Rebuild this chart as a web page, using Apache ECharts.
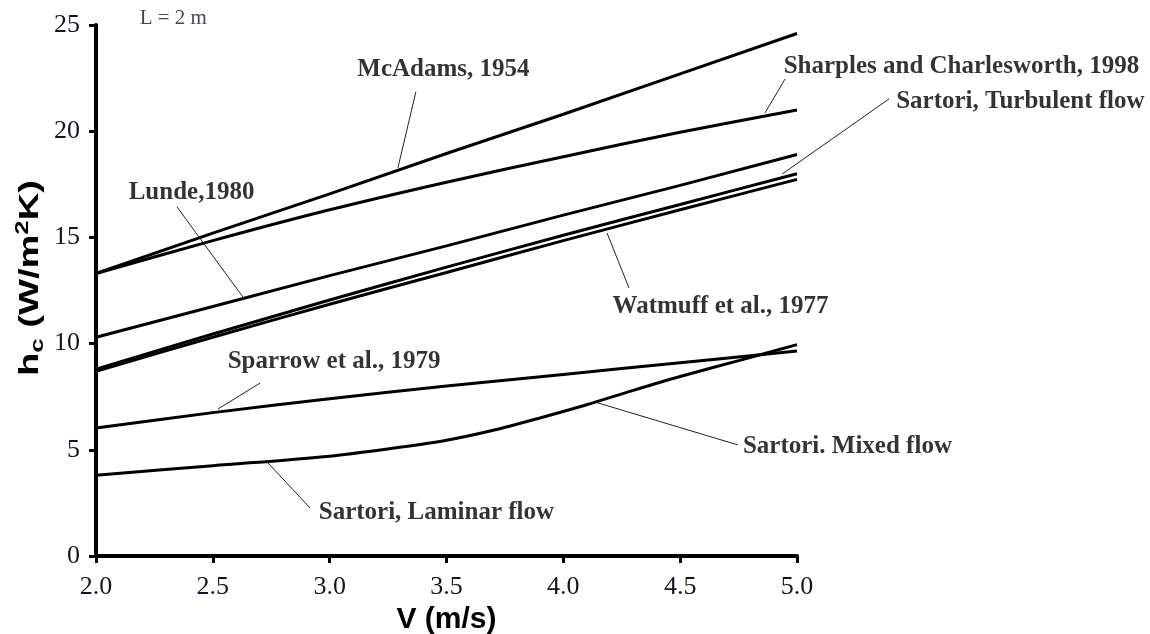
<!DOCTYPE html>
<html>
<head>
<meta charset="utf-8">
<script src="https://cdn.jsdelivr.net/npm/echarts@6/dist/echarts.min.js"></script>
<style>
  html, body { margin: 0; padding: 0; background: #fff; }
  #chart { width: 1150px; height: 634px; }
</style>
</head>
<body>
<div id="chart"></div>
<script>
// Wind speed (m/s) sampled for the correlation curves
const speeds = [2.0, 2.5, 3.0, 3.5, 4.0, 4.5, 5.0];

// Convective heat transfer coefficient h_c (W/m²K) for each correlation
const mcAdams   = [13.3, 15.2, 17.05, 18.95, 20.8, 22.7, 24.6];
const sharples  = [13.3, 14.85, 16.3, 17.6, 18.8, 19.95, 21.0];
const lunde     = [10.3, 11.75, 13.2, 14.6, 16.05, 17.45, 18.9];
const sartoriTurbulent = [8.8, 10.45, 12.05, 13.6, 15.1, 16.55, 18.0];
const watmuff   = [8.7, 10.3, 11.85, 13.35, 14.85, 16.3, 17.73];
const sparrow   = [6.03, 6.75, 7.4, 8.0, 8.55, 9.1, 9.65];

// Sartori laminar -> mixed flow curve, finer sampling around the transition
const sartoriSpeeds = [2.0, 2.5, 3.0, 3.3, 3.5, 3.7, 3.9, 4.1, 4.3, 4.5, 4.75, 5.0];
const sartoriLamMixed = [3.8, 4.25, 4.7, 5.12, 5.45, 5.92, 6.5, 7.12, 7.8, 8.45, 9.2, 9.95];

// Annotations: [text, textX, textY, leaderFromX, leaderFromY, leaderToX, leaderToY]
const notes = [
  ['McAdams, 1954', 3.489, 22.88, 3.369, 21.85, 3.292, 18.27],
  ['Sharples and Charlesworth, 1998', 5.706, 23.02, 4.949, 22.46, 4.863, 20.86],
  ['Sartori, Turbulent flow', 5.958, 21.37, 5.394, 21.52, 4.936, 17.98],
  ['Lunde,1980', 2.411, 17.09, 2.347, 16.43, 2.629, 12.19],
  ['Watmuff et al., 1977', 4.675, 11.72, 4.281, 12.62, 4.187, 15.21],
  ['Sparrow et al., 1979', 3.021, 9.13, 2.702, 8.14, 2.522, 6.92],
  ['Sartori. Mixed flow', 5.218, 5.13, 4.747, 5.23, 4.135, 7.25],
  ['Sartori, Laminar flow', 3.459, 2.02, 2.916, 2.26, 2.732, 4.43]
];
const caption = ['L = 2 m', 2.333, 25.3];

const pair = (xs, ys) => xs.map((x, i) => [x, ys[i]]);

const curveStyle = { color: '#000', width: 3 };
function curve(name, xs, ys, smooth) {
  return {
    name: name,
    type: 'line',
    data: pair(xs, ys),
    showSymbol: false,
    symbol: 'none',
    smooth: smooth || false,
    lineStyle: curveStyle,
    silent: true,
    z: 3
  };
}

const serif = 'Liberation Serif, Times New Roman, serif';
const sans = 'Liberation Sans, Arial, sans-serif';

const chart = echarts.init(document.getElementById('chart'));
chart.setOption({
  animation: false,
  backgroundColor: '#fff',
  grid: { left: 96, right: 353, top: 25, bottom: 78, containLabel: false, outerBoundsMode: 'none' },
  // Vertical axis title, drawn stretched along its reading direction
  graphic: [{
    type: 'text',
    x: 47,
    y: 278,
    rotation: Math.PI / 2,
    scaleX: 1.36,
    silent: true,
    style: {
      text: '{b|h}{sub|c}{b| (W/m}{sup|2}{b|K)}',
      align: 'center',
      verticalAlign: 'bottom',
      fill: '#000',
      rich: {
        b: { fontFamily: sans, fontWeight: 'bold', fontSize: 28, fill: '#000', lineHeight: 34 },
        sub: { fontFamily: sans, fontWeight: 'bold', fontSize: 19, fill: '#000', lineHeight: 34, verticalAlign: 'bottom', padding: [12, 0, 0, 0] },
        sup: { fontFamily: sans, fontWeight: 'bold', fontSize: 19, fill: '#000', lineHeight: 34, verticalAlign: 'top', padding: [0, 0, 10, 0] }
      }
    }
  }],
  xAxis: {
    type: 'value',
    min: 2, max: 5, interval: 0.5,
    name: 'V (m/s)',
    nameLocation: 'middle',
    nameGap: 46,
    nameTextStyle: { fontFamily: sans, fontWeight: 'bold', fontSize: 30, color: '#000' },
    axisLine: { show: true, onZero: false, lineStyle: { color: '#000', width: 4 } },
    axisTick: { show: true, inside: false, length: 7, lineStyle: { color: '#000', width: 3 } },
    axisLabel: { fontFamily: serif, fontSize: 26, color: '#141428', margin: 18,
      formatter: v => v.toFixed(1) },
    splitLine: { show: false }
  },
  yAxis: {
    type: 'value',
    min: 0, max: 25, interval: 5,
    axisLine: { show: true, onZero: false, lineStyle: { color: '#000', width: 4 } },
    axisTick: { show: true, inside: false, length: 7, lineStyle: { color: '#000', width: 3 } },
    axisLabel: { fontFamily: serif, fontSize: 26, color: '#141428', margin: 16 },
    splitLine: { show: false }
  },
  series: [
    curve('McAdams, 1954', speeds, mcAdams),
    curve('Sharples and Charlesworth, 1998', speeds, sharples, 0.3),
    curve('Lunde, 1980', speeds, lunde),
    curve('Sartori, Turbulent flow', speeds, sartoriTurbulent, 0.3),
    curve('Watmuff et al., 1977', speeds, watmuff, 0.3),
    curve('Sparrow et al., 1979', speeds, sparrow, 0.3),
    curve('Sartori, Laminar/Mixed flow', sartoriSpeeds, sartoriLamMixed, 0.3),
    {
      name: 'leaders',
      type: 'lines',
      coordinateSystem: 'cartesian2d',
      clip: false,
      silent: true,
      lineStyle: { color: '#222', width: 1, opacity: 1 },
      data: notes.map(n => ({ coords: [[n[3], n[4]], [n[5], n[6]]] })),
      z: 4
    },
    {
      name: 'notes',
      type: 'scatter',
      clip: false,
      silent: true,
      symbolSize: 1,
      itemStyle: { color: 'rgba(0,0,0,0)' },
      label: {
        show: true,
        position: [0, 0],
        align: 'center',
        verticalAlign: 'middle',
        formatter: '{b}',
        fontFamily: serif,
        fontWeight: 'bold',
        fontSize: 25,
        color: '#000',
        textBorderWidth: 0
      },
      data: notes.map(n => ({ name: n[0], value: [n[1], n[2]] })).concat([{
        name: caption[0],
        value: [caption[1], caption[2]],
        label: { fontWeight: 'normal', fontSize: 21, color: '#141428' }
      }]),
      z: 5
    }
  ]
});
</script>
</body>
</html>
